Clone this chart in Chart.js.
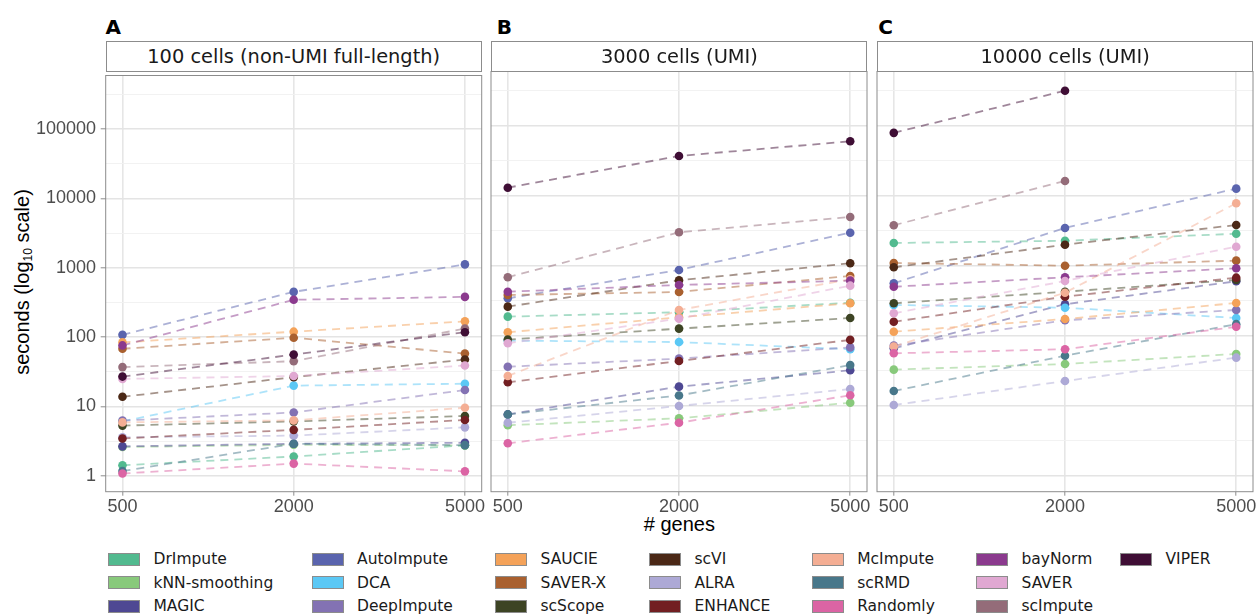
<!DOCTYPE html>
<html><head><meta charset="utf-8">
<script src="https://cdn.jsdelivr.net/npm/chart.js@4.4.1/dist/chart.umd.min.js"></script>
<style>
body{margin:0;width:1256px;height:616px;overflow:hidden;background:#fff;position:relative;font-family:"DejaVu Sans";}
canvas{position:absolute;}
.strip{position:absolute;box-sizing:border-box;border:1px solid #8c8c8c;background:#fff;text-align:center;font-family:"DejaVu Sans";font-size:19.4px;color:#1a1a1a;}
.letter{position:absolute;font-family:"DejaVu Sans";font-weight:bold;font-size:20px;line-height:20px;color:#000;}
.ytitle{position:absolute;left:23px;top:282px;transform:translate(-50%,-50%) rotate(-90deg);white-space:nowrap;font-family:"Liberation Sans";font-size:20px;color:#000;}
.ytitle sub{font-size:12px;vertical-align:-3px;}
.xtitle{position:absolute;left:679.4px;top:514px;transform:translateX(-50%);white-space:nowrap;font-family:"Liberation Sans";font-size:20px;line-height:20px;color:#000;}
.key{position:absolute;box-sizing:border-box;width:32px;height:13px;border:1px solid #8c8c8c;}
.lab{position:absolute;font-family:"DejaVu Sans";font-size:15.5px;line-height:18px;color:#1a1a1a;white-space:nowrap;}
</style>
</head><body>
<div class="letter" style="left:105.5px;top:17.4px">A</div>
<div class="letter" style="left:496.7px;top:17.4px">B</div>
<div class="letter" style="left:878.3px;top:17.4px">C</div>
<div class="ytitle">seconds (log<sub>10</sub> scale)</div>
<div class="xtitle"># genes</div>
<canvas id="cA" width="490" height="480" style="left:0px;top:60px"></canvas>
<canvas id="cB" width="386" height="480" style="left:486.4px;top:60px"></canvas>
<canvas id="cC" width="386" height="480" style="left:872.1px;top:60px"></canvas>
<div id="strips"></div>
<div id="legend"></div>
<script>
const methods = ['DrImpute','kNN-smoothing','MAGIC','AutoImpute','DCA','DeepImpute','SAUCIE','SAVER-X','scScope','scVI','ALRA','ENHANCE','McImpute','scRMD','Randomly','bayNorm','SAVER','scImpute','VIPER'];
const colors = ['#52BA8F','#88C97B','#4E4893','#5A64AE','#5BC8F5','#8372B3','#F4A259','#A9602F','#3D4424','#4B2816','#ADA9D6','#721F22','#F4AE94','#48778A','#DB64A4','#8B3A8E','#E0A8D2','#946C79','#3F0E35'];
const genes = ['500','2000','5000'];
const panelTitles = ['100 cells (non-UMI full-length)','3000 cells (UMI)','10000 cells (UMI)'];
const yMajor = [1,10,100,1000,10000,100000];
const yMinor = [3.16228,31.6228,316.228,3162.28,31622.8,316228];

// seconds per method (same order as methods), for 500 / 2000 / 5000 genes
const cells100 = [
  [1.42,1.9,2.75],[2.6,2.8,2.75],[2.66,2.9,3.0],[108,450,1120],[6.1,20,21.3],
  [6.25,8.2,17.3],[84,120,169],[68,98,58],[5.3,6.1,7.3],[13.8,26.5,47.5],
  [3.6,3.8,5.0],[3.46,4.6,6.4],[5.9,6.3,9.6],[1.17,2.9,2.77],[1.08,1.5,1.16],
  [76,346,381],[25,27.5,39],[37,45,133],[27,56,118]
];
const cells3000 = [
  [187,216,296],[5.25,6.6,11],[7.5,18.7,32],[342,868,2960],[85,81,64],
  [36,47,68],[112,183,290],[381,421,713],[88,126,179],[260,618,1082],
  [5.7,9.9,17.3],[21.6,43.5,87],[26.6,233,640],[7.5,14,38],[2.9,5.7,14.1],
  [425,530,611],[78,175,518],[683,3000,4960],[13000,36900,59800]
];
const cells10000 = [
  [2110,2270,2860],[32.7,39.4,54.8],[66,281,599],[561,3460,12600],[275,251,179],
  [72,166,233],[114,173,293],[1094,1000,1180],[290,425,625],[948,1995,3810],
  [10.2,22.5,48.5],[158,361,674],[70,411,7790],[16.2,51.8,146],[56,64,134],
  [500,683,918],[209,604,1868],[3780,16200,null],[79000,316000,null]
];

const panelLefts = [105.7, 491.4, 877.1];
const panelW = 376;

// strips
const strips = document.getElementById('strips');
panelTitles.forEach((t,i)=>{
  const d = document.createElement('div');
  d.className='strip';
  d.style.left = panelLefts[i]+'px'; d.style.top='40.7px';
  d.style.width = panelW+'px'; d.style.height='31.8px'; d.style.lineHeight='30px';
  d.textContent = t;
  strips.appendChild(d);
});

// legend (column-major, 3 rows)
const legCols = [108, 311.6, 495, 649, 811.7, 976, 1120];
const legRows = [559, 582.5, 606];
const leg = document.getElementById('legend');
methods.forEach((m,i)=>{
  const c = Math.floor(i/3), r = i%3;
  const k = document.createElement('div');
  k.className='key';
  k.style.left = legCols[c]+'px'; k.style.top=(legRows[r]-6.5)+'px';
  k.style.background = colors[i];
  leg.appendChild(k);
  const l = document.createElement('div');
  l.className='lab';
  l.style.left=(legCols[c]+45.5)+'px'; l.style.top=(legRows[r]-9)+'px';
  l.textContent = m;
  leg.appendChild(l);
});

function hexA(h,a){const n=parseInt(h.slice(1),16);return `rgba(${n>>16},${(n>>8)&255},${n&255},${a})`;}

const borderPlugin = {
  id:'panelBorder',
  afterDraw(chart){
    const {ctx, chartArea:a} = chart;
    ctx.save(); ctx.strokeStyle='#8c8c8c'; ctx.lineWidth=1;
    ctx.strokeRect(a.left, a.top, a.right-a.left, a.bottom-a.top);
    ctx.restore();
  }
};

function makeChart(id, data, showY, padL, padR){
  const datasets = [];
  methods.forEach((m,i)=>{
    datasets.push({
      label:m, data:data[i].map((v,j)=>({x:j,y:v})),
      borderColor:hexA(colors[i],0.5), borderWidth:1.8, borderDash:[8,6],
      pointRadius:0, pointHoverRadius:0, fill:false, spanGaps:false, order:100-i
    });
    datasets.push({
      label:m, data:data[i].map((v,j)=>({x:j,y:v})),
      showLine:false, pointRadius:4.3, pointBackgroundColor:colors[i],
      pointBorderColor:colors[i], pointBorderWidth:0, order:19-i
    });
  });
  return new Chart(document.getElementById(id), {
    type:'line',
    data:{datasets},
    options:{
      responsive:false, animation:false,
      layout:{padding:{left:padL,right:padR,top:11.5,bottom:8.3}, autoPadding:false},
      plugins:{legend:{display:false}, tooltip:{enabled:false}},
      scales:{
        x:{
          type:'linear', min:-0.098, max:2.098,
          afterBuildTicks:s=>{s.ticks = genes.map((g,i)=>({value:i}));},
          afterFit:s=>{s.height=40;},
          ticks:{callback:v=>genes[v], font:{family:'Liberation Sans',size:18}, color:'#4d4d4d', padding:1, autoSkip:false, maxRotation:0},
          grid:{color:'#e6e6e6', lineWidth:1.6, drawTicks:true, tickLength:4, tickColor:'#8c8c8c', tickWidth:1},
          border:{display:false}
        },
        y:{
          type:'logarithmic', min:Math.pow(10,-0.229), max:Math.pow(10,5.774),
          afterBuildTicks:s=>{s.ticks = yMajor.concat(yMinor).sort((a,b)=>a-b).map(v=>({value:v}));},
          afterFit:s=>{s.width = showY?105.7:0;},
          ticks:{display:showY, callback:v=>yMajor.includes(v)?String(v):'', font:{family:'Liberation Sans',size:18}, color:'#4d4d4d', padding:4.7, autoSkip:false},
          grid:{
            color:c=>yMajor.includes(c.tick&&c.tick.value)?'#e4e4e4':'#f1f1f1',
            lineWidth:c=>yMajor.includes(c.tick&&c.tick.value)?1.6:0.9,
            drawTicks:showY, tickLength:5, tickWidth:1,
            tickColor:c=>yMajor.includes(c.tick&&c.tick.value)?'#8c8c8c':'rgba(0,0,0,0)'
          },
          border:{display:false}
        }
      }
    },
    plugins:[borderPlugin]
  });
}

makeChart('cA', cells100, true, 0, 8.3);
makeChart('cB', cells3000, false, 5, 5);
makeChart('cC', cells10000, false, 5, 5);
</script>
</body></html>
